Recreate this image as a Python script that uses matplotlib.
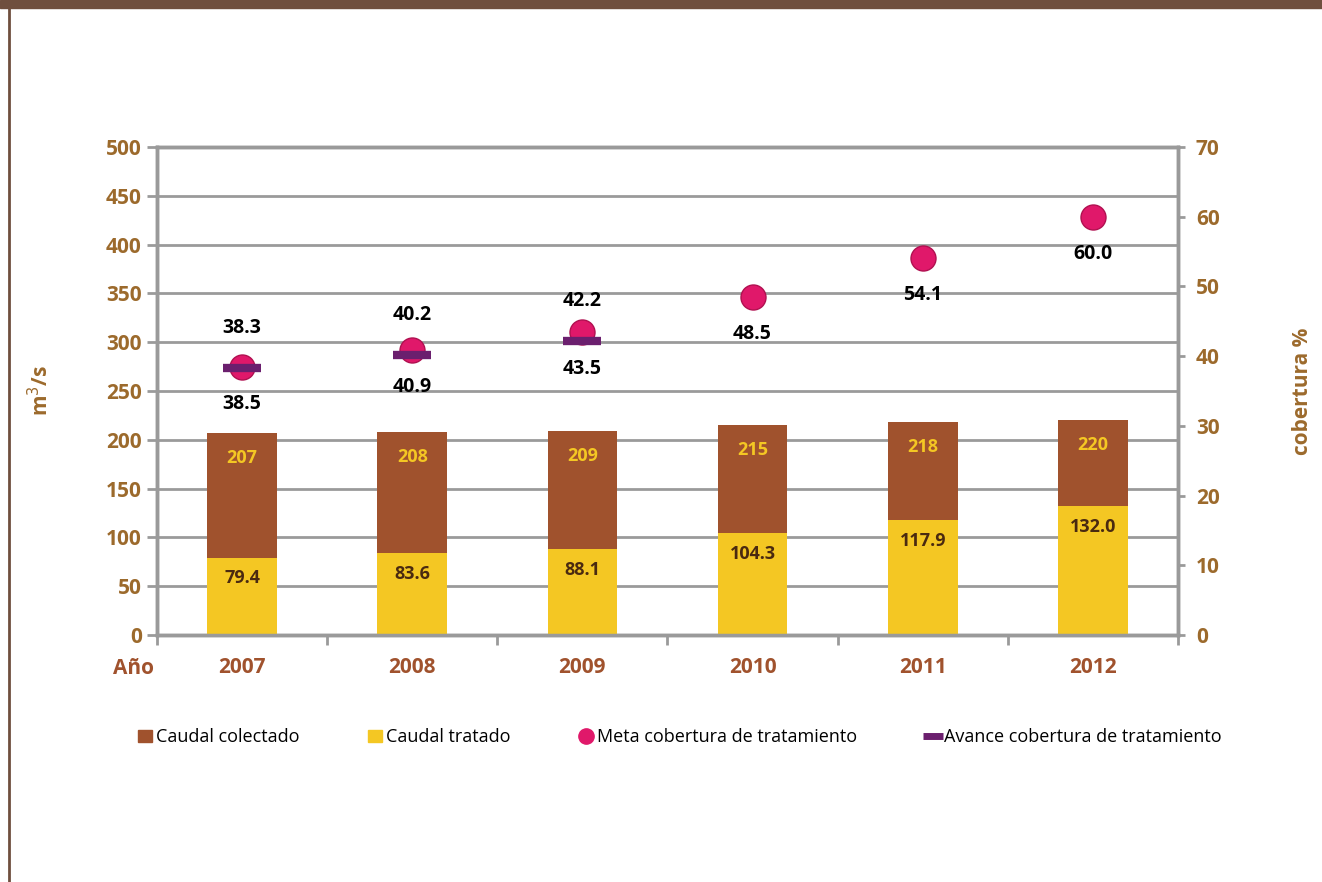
import numpy as np
import matplotlib
matplotlib.use("Agg")
import matplotlib.pyplot as plt
from matplotlib.lines import Line2D
from matplotlib.patches import Patch

# datos
anios = ["2007", "2008", "2009", "2010", "2011", "2012"]
colectado = [207, 208, 209, 215, 218, 220]
tratado = [79.4, 83.6, 88.1, 104.3, 117.9, 132.0]
meta = [38.5, 40.9, 43.5, 48.5, 54.1, 60.0]
avance = [38.3, 40.2, 42.2]

plt.rcParams['font.family'] = ['Open Sans', 'DejaVu Sans']

c_col = '#a0522d'
c_tra = '#f4c723'
c_meta = '#e0186a'
c_av = '#6b1f6e'
c_tick = '#9c6a2c'
c_grid = '#9a9a9a'
fs = 15

fig = plt.figure(figsize=(13.22, 8.82), dpi=100)
ax = fig.add_axes([0.1188, 0.280, 0.7722, 0.5533])
ax2 = ax.twinx()

x = np.arange(len(anios))
w = 0.41
ax.bar(x, colectado, w, color=c_col, zorder=3)
ax.bar(x, tratado, w, color=c_tra, zorder=4)

for i in range(len(anios)):
    ax.annotate(f"{colectado[i]}", (x[i], colectado[i]), xytext=(0, -18), textcoords='offset points',
                ha='center', va='center', color=c_tra, fontsize=13, fontweight='bold', zorder=5)
    ax.annotate(f"{tratado[i]:.1f}", (x[i], tratado[i]), xytext=(0, -15), textcoords='offset points',
                ha='center', va='center', color='#4a2a10', fontsize=13, fontweight='bold', zorder=5)

ax.set_xlim(-0.5, len(anios) - 0.5)
ax.set_ylim(0, 500)
ax.set_yticks(np.arange(0, 501, 50))
ax.yaxis.grid(True, color=c_grid, linewidth=2, zorder=0)
ax.set_axisbelow(True)
ax.set_xticks(np.arange(-0.5, len(anios), 1))
ax.set_xticklabels([])
ax.set_xticks(x, minor=True)
ax.set_xticklabels(anios, minor=True)
ax.tick_params(axis='x', which='minor', length=0, pad=16, labelsize=fs, labelcolor=c_col)
ax.tick_params(axis='x', which='major', length=7, width=2, color=c_grid, direction='out')
ax.tick_params(axis='y', length=7, width=2, color=c_grid, labelsize=fs, labelcolor=c_tick, pad=4)
for lab in ax.get_xticklabels(minor=True) + ax.get_yticklabels():
    lab.set_fontweight('bold')
for s in ax.spines.values():
    s.set_color(c_grid)
    s.set_linewidth(2.5)
ax.set_ylabel("m$^3$/s", color=c_tick, fontsize=fs, fontweight='bold', labelpad=38)
ax.text(-0.0235, -0.068, "Año", transform=ax.transAxes, ha='center', va='center',
        color=c_col, fontsize=fs, fontweight='bold')

ax2.set_ylim(0, 70)
ax2.set_yticks(np.arange(0, 71, 10))
ax2.tick_params(axis='y', length=5, width=2, color=c_grid, labelsize=fs, labelcolor=c_tick, pad=8)
for lab in ax2.get_yticklabels():
    lab.set_fontweight('bold')
for s in ax2.spines.values():
    s.set_color(c_grid)
    s.set_linewidth(2.5)
ax2.set_ylabel("cobertura %", color=c_tick, fontsize=fs, fontweight='bold', labelpad=52)

ax2.plot(x, meta, 'o', color=c_meta, markersize=18, markeredgecolor='#b01050', markeredgewidth=1, zorder=5)
ax2.plot(x[:len(avance)], avance, '_', color=c_av, markersize=28, markeredgewidth=6, zorder=6)

for i, v in enumerate(meta):
    ax2.annotate(f"{v:.1f}", (x[i], v), xytext=(0, -27), textcoords='offset points',
                 ha='center', va='center', fontsize=14, fontweight='bold', color='black')
for i, v in enumerate(avance):
    ax2.annotate(f"{v:.1f}", (x[i], v), xytext=(0, 29), textcoords='offset points',
                 ha='center', va='center', fontsize=14, fontweight='bold', color='black')

handles = [Patch(color=c_col), Patch(color=c_tra),
           Line2D([], [], marker='o', ls='', color=c_meta, markersize=11),
           Line2D([], [], marker='_', ls='', color=c_av, markersize=14, markeredgewidth=5)]
labels = ["Caudal colectado", "Caudal tratado", "Meta cobertura de tratamiento",
          "Avance cobertura de tratamiento"]
fig.legend(handles, labels, loc='center', bbox_to_anchor=(0.514, 0.164), ncol=4, frameon=False,
           fontsize=13, handlelength=0.8, handletextpad=0.2, columnspacing=3.8)

# marco
fig.add_artist(plt.Rectangle((0, 0.991), 1, 0.009, transform=fig.transFigure, color='#6f4f3e'))
fig.add_artist(Line2D([0.0065, 0.0065], [0, 1], transform=fig.transFigure, color='#6f4f3e', lw=2))

fig.savefig("out.png", dpi=100)
